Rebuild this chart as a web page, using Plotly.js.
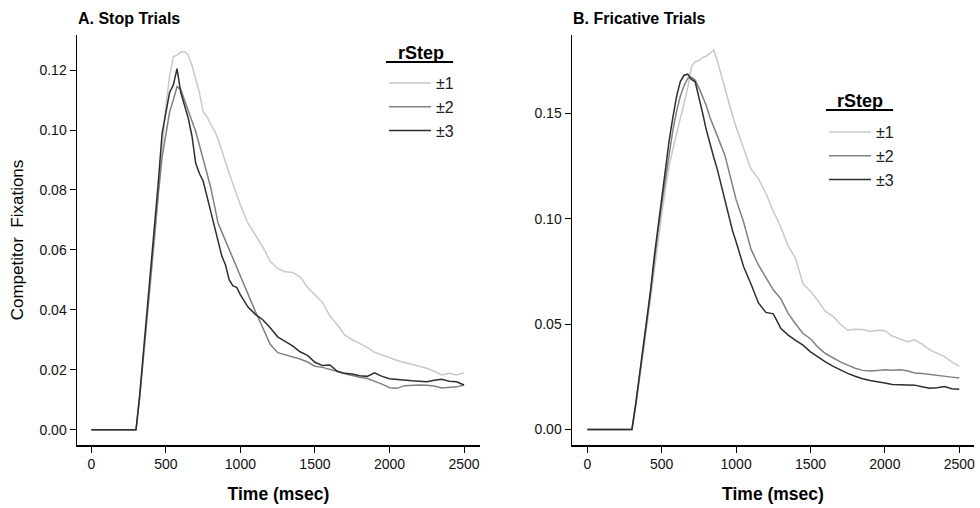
<!DOCTYPE html>
<html>
<head>
<meta charset="utf-8">
<script src="https://cdn.plot.ly/plotly-3.0.1.min.js"></script>
<style>html,body{margin:0;padding:0;background:#fff;}#chart{width:980px;height:508px;}</style>
</head>
<body>
<div id="chart"></div>
<script>
// Time points (msec)
var timeMs = [0, 300, 325, 350, 375, 400, 425, 450, 475, 500, 525, 550, 575, 600, 625, 650, 675, 700, 725, 750, 775, 800, 825, 850, 875, 900, 925, 950, 975, 1000,
  1050, 1100, 1150, 1200, 1250, 1300, 1350, 1400, 1450, 1500, 1550, 1600, 1650, 1700, 1750, 1800, 1850, 1900, 1950, 2000,
  2050, 2100, 2150, 2200, 2250, 2300, 2350, 2400, 2450, 2500];

var seriesNames = ['\u00b11', '\u00b12', '\u00b13'];

// A. Stop Trials
var stop1 = [0, 0, 0.011, 0.024, 0.037, 0.050, 0.064, 0.079, 0.095, 0.108, 0.118, 0.1245, 0.125, 0.126, 0.1262, 0.125, 0.1215, 0.117, 0.1125, 0.106, 0.1045, 0.102, 0.0998, 0.097, 0.093, 0.089, 0.0855, 0.082, 0.0785, 0.075,
  0.069, 0.065, 0.061, 0.0562, 0.0538, 0.0527, 0.0525, 0.051, 0.0475, 0.045, 0.0425, 0.038, 0.035, 0.0316, 0.030, 0.0288, 0.0275, 0.0258, 0.025, 0.0241,
  0.0231, 0.0225, 0.0218, 0.0212, 0.0205, 0.0195, 0.0183, 0.0188, 0.0183, 0.0190];
var stop2 = [0, 0, 0.011, 0.025, 0.038, 0.052, 0.065, 0.079, 0.091, 0.099, 0.106, 0.110, 0.1145, 0.1135, 0.110, 0.107, 0.103, 0.0995, 0.095, 0.0905, 0.086, 0.081, 0.075, 0.069, 0.066, 0.063, 0.060, 0.057, 0.0545, 0.051,
  0.045, 0.0395, 0.034, 0.0285, 0.0257, 0.025, 0.0244, 0.0236, 0.0226, 0.0212, 0.0208, 0.0202, 0.0194, 0.0187, 0.018, 0.0175, 0.0171, 0.0162, 0.0152, 0.014,
  0.0138, 0.0147, 0.0149, 0.0149, 0.0148, 0.0146, 0.0139, 0.0141, 0.0143, 0.0149];
var stop3 = [0, 0, 0.012, 0.026, 0.040, 0.054, 0.068, 0.083, 0.099, 0.106, 0.1125, 0.115, 0.1205, 0.1125, 0.108, 0.104, 0.098, 0.089, 0.0855, 0.083, 0.078, 0.073, 0.068, 0.063, 0.058, 0.055, 0.050, 0.048, 0.0475, 0.045,
  0.041, 0.0385, 0.0367, 0.034, 0.031, 0.0295, 0.028, 0.026, 0.0248, 0.0225, 0.0214, 0.0216, 0.0195, 0.0188, 0.0186, 0.018, 0.0178, 0.019, 0.0178, 0.017,
  0.0167, 0.0165, 0.0163, 0.0162, 0.016, 0.0165, 0.0168, 0.0162, 0.016, 0.0149];

// B. Fricative Trials
var fric1 = [0, 0, 0.011, 0.023, 0.036, 0.049, 0.062, 0.076, 0.089, 0.102, 0.114, 0.125, 0.133, 0.140, 0.1476, 0.155, 0.162, 0.172, 0.1745, 0.175, 0.1765, 0.177, 0.1785, 0.180, 0.1745, 0.168, 0.161, 0.155, 0.149, 0.1435,
  0.1334, 0.1235, 0.119, 0.112, 0.1035, 0.096, 0.087, 0.081, 0.069, 0.0655, 0.061, 0.056, 0.0538, 0.050, 0.047, 0.0475, 0.0474, 0.0466, 0.047, 0.0468,
  0.0443, 0.043, 0.0416, 0.0425, 0.0405, 0.0378, 0.0362, 0.0345, 0.032, 0.0299];
var fric2 = [0, 0, 0.0115, 0.024, 0.037, 0.051, 0.065, 0.080, 0.094, 0.107, 0.119, 0.131, 0.142, 0.151, 0.158, 0.163, 0.1665, 0.167, 0.1657, 0.162, 0.158, 0.1535, 0.1478, 0.143, 0.139, 0.1345, 0.130, 0.123, 0.116, 0.109,
  0.0985, 0.0855, 0.078, 0.0722, 0.0662, 0.062, 0.055, 0.050, 0.0455, 0.043, 0.039, 0.036, 0.0338, 0.032, 0.0305, 0.029, 0.028, 0.0277, 0.028, 0.0283,
  0.0281, 0.0283, 0.0278, 0.0268, 0.0265, 0.026, 0.0256, 0.0252, 0.0248, 0.0244];
var fric3 = [0, 0, 0.012, 0.025, 0.038, 0.052, 0.066, 0.082, 0.096, 0.110, 0.124, 0.137, 0.148, 0.158, 0.165, 0.168, 0.1685, 0.166, 0.1649, 0.158, 0.150, 0.142, 0.135, 0.129, 0.123, 0.116, 0.109, 0.101, 0.0945, 0.089,
  0.0773, 0.069, 0.060, 0.0555, 0.0548, 0.048, 0.0447, 0.0422, 0.040, 0.0368, 0.0343, 0.032, 0.030, 0.0282, 0.0266, 0.0252, 0.024, 0.0232, 0.0227, 0.022,
  0.0213, 0.0213, 0.0212, 0.021, 0.0202, 0.0195, 0.0198, 0.0203, 0.0193, 0.0191];

var xTicks = [0, 500, 1000, 1500, 2000, 2500];
var yTicksStop = [0, 0.02, 0.04, 0.06, 0.08, 0.10, 0.12];
var yTicksFric = [0, 0.05, 0.10, 0.15];

var colors = ['#c8c8c8', '#808080', '#2e2e2e'];
var FONT = 'Liberation Sans, Arial, sans-serif';

var stopData = [stop1, stop2, stop3];
var fricData = [fric1, fric2, fric3];
var traces = [];
stopData.forEach(function (ys, i) {
  traces.push({x: timeMs, y: ys, type: 'scatter', mode: 'lines', name: seriesNames[i],
    line: {color: colors[i], width: 1.5}, xaxis: 'x', yaxis: 'y', legend: 'legend', hoverinfo: 'x+y'});
});
fricData.forEach(function (ys, i) {
  traces.push({x: timeMs, y: ys, type: 'scatter', mode: 'lines', name: seriesNames[i],
    line: {color: colors[i], width: 1.5}, xaxis: 'x2', yaxis: 'y2', legend: 'legend2', hoverinfo: 'x+y'});
});

var W = 980, H = 508;
function px(v) { return v / W; }
function py(v) { return 1 - v / H; }

var axisCommon = {
  showline: true, linecolor: '#000', linewidth: 1.5, mirror: false,
  ticks: 'outside', ticklen: 6, tickwidth: 1, tickcolor: '#000',
  showgrid: false, zeroline: false,
  tickfont: {family: FONT, size: 14, color: '#111'}
};

var legendCommon = {
  xanchor: 'left', yanchor: 'top',
  bgcolor: 'rgba(0,0,0,0)', borderwidth: 0, itemwidth: 42,
  font: {family: FONT, size: 16, color: '#222'}
};

var layout = {
  width: W, height: H,
  margin: {l: 0, r: 0, t: 0, b: 0},
  paper_bgcolor: '#fff', plot_bgcolor: '#fff',
  font: {family: FONT, color: '#111'},
  xaxis: Object.assign({}, axisCommon, {
    domain: [px(77), px(480)], range: [-96, 2607], tickvals: xTicks, ticktext: xTicks.map(String),
    anchor: 'y',
    title: {text: '<b>Time (msec)</b>', font: {family: FONT, size: 17.5, color: '#000'}, standoff: 16}
  }),
  yaxis: Object.assign({}, axisCommon, {
    domain: [py(445), py(35)], range: [-0.0051, 0.1317], tickvals: yTicksStop,
    ticktext: yTicksStop.map(function (v) { return v.toFixed(2); }), anchor: 'x',
    title: {text: 'Competitor\u00a0 Fixations', font: {family: FONT, size: 17, color: '#000'}, standoff: 11}
  }),
  xaxis2: Object.assign({}, axisCommon, {
    domain: [px(572), px(974)], range: [-103, 2599], tickvals: xTicks, ticktext: xTicks.map(String),
    anchor: 'y2',
    title: {text: '<b>Time (msec)</b>', font: {family: FONT, size: 17.5, color: '#000'}, standoff: 16}
  }),
  yaxis2: Object.assign({}, axisCommon, {
    domain: [py(445), py(35)], range: [-0.0074, 0.1871], tickvals: yTicksFric,
    ticktext: yTicksFric.map(function (v) { return v.toFixed(2); }), anchor: 'x2'
  }),
  showlegend: true,
  legend: Object.assign({}, legendCommon, {x: px(384), y: py(66)}),
  legend2: Object.assign({}, legendCommon, {x: px(824), y: py(115)}),
  shapes: [
    {type: 'line', xref: 'paper', yref: 'paper', x0: px(386), x1: px(453), y0: py(62), y1: py(62), line: {color: '#000', width: 2}},
    {type: 'line', xref: 'paper', yref: 'paper', x0: px(826), x1: px(893), y0: py(110), y1: py(110), line: {color: '#000', width: 2}}
  ],
  annotations: [
    {text: '<b>A. Stop Trials</b>', xref: 'paper', yref: 'paper', x: px(76), y: py(18), xanchor: 'left', yanchor: 'middle',
      showarrow: false, font: {family: FONT, size: 16, color: '#000'}},
    {text: '<b>B. Fricative Trials</b>', xref: 'paper', yref: 'paper', x: px(571), y: py(18), xanchor: 'left', yanchor: 'middle',
      showarrow: false, font: {family: FONT, size: 16, color: '#000'}},
    {text: '<b>rStep</b>', xref: 'paper', yref: 'paper', x: px(421), y: py(53), xanchor: 'center', yanchor: 'middle',
      showarrow: false, font: {family: FONT, size: 18, color: '#000'}},
    {text: '<b>rStep</b>', xref: 'paper', yref: 'paper', x: px(860), y: py(101), xanchor: 'center', yanchor: 'middle',
      showarrow: false, font: {family: FONT, size: 18, color: '#000'}}
  ]
};

Plotly.newPlot('chart', traces, layout, {displayModeBar: false, staticPlot: true});
</script>
</body>
</html>
